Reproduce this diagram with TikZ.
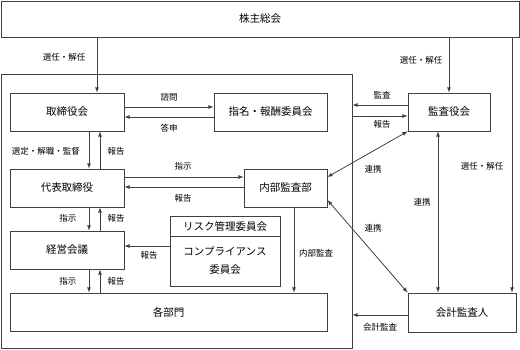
\documentclass[tikz,border=0pt]{standalone}
\usepackage{fontspec}
\newfontfamily\jpfont{Noto Sans CJK JP}
\usetikzlibrary{arrows, positioning, calc}
\definecolor{linegray}{HTML}{404040}
\tikzstyle{block} = [rectangle, draw=linegray, line width=0.8pt, text centered, inner sep=0pt, minimum height=38pt, font=\jpfont\fontsize{10.5}{18}\selectfont]
\tikzstyle{lbl} = [inner sep=0pt, font=\jpfont\fontsize{8.5}{10}\selectfont]
\tikzstyle{arrow} = [draw=linegray, line width=0.8pt, ->, >=latex]
\tikzstyle{twoway} = [draw=linegray, line width=0.8pt, <->, >=latex]

\begin{document}
\begin{tikzpicture}[x=1pt, y=-1pt]
    \useasboundingbox (0,0) rectangle (520,349);

    % boxes
    \node (soukai) [block, minimum width=518pt, minimum height=36pt] at (260,19) {株主総会};
    \node (frame) [draw=linegray, line width=0.8pt, minimum width=351pt, minimum height=274pt] at (176.5,211) {};
    \node (tori) [block, minimum width=114pt] at (67,112) {取締役会};
    \node (shimei) [block, minimum width=113pt] at (270.5,112) {指名・報酬委員会};
    \node (kansa) [block, minimum width=82pt] at (449,112) {監査役会};
    \node (daihyo) [block, minimum width=114pt] at (67,188) {代表取締役};
    \node (naibu) [block, minimum width=83pt] at (285.5,188) {内部監査部};
    \node (keiei) [block, minimum width=114pt] at (67,250) {経営会議};
    \node (risk) [block, minimum width=110pt, minimum height=20pt] at (225,226) {リスク管理委員会};
    \node (comp) [block, minimum width=110pt, minimum height=50pt, align=center] at (225,261) {コンプライアンス\\委員会};
    \node (kakubu) [block, minimum width=317pt] at (168.5,312) {各部門};
    \node (kaikei) [block, minimum width=108pt, minimum height=39pt] at (462,312.5) {会計監査人};

    % from the shareholders
    \coordinate (c1) at ($(tori.north)+(30,0)$);
    \coordinate (c2) at ($(kaikei.north)+(50,0)$);
    \draw [arrow] (c1 |- soukai.south) -- (c1);
    \draw [arrow] (kansa.north |- soukai.south) -- (kansa.north);
    \draw [arrow] (c2 |- soukai.south) -- (c2);

    % board and committees
    \draw [arrow] ([yshift=5pt]tori.east) -- ([yshift=5pt]shimei.west);
    \draw [arrow] ([yshift=-5pt]shimei.west) -- ([yshift=-5pt]tori.east);
    \coordinate (k1) at ([yshift=7pt]kansa.west);
    \coordinate (k2) at ([yshift=-4pt]kansa.west);
    \draw [arrow] (k1) -- (k1 -| frame.east);
    \draw [arrow] (k2 -| frame.east) -- (k2);

    % chain of command
    \draw [arrow] ([xshift=22pt]tori.south) -- ([xshift=22pt]daihyo.north);
    \draw [arrow] ([xshift=33pt]daihyo.north) -- ([xshift=33pt]tori.south);
    \draw [arrow] ([yshift=11pt]daihyo.east) -- ([yshift=11pt]naibu.west);
    \draw [arrow] ([yshift=1pt]naibu.west) -- ([yshift=1pt]daihyo.east);
    \draw [arrow] ([xshift=22pt]daihyo.south) -- ([xshift=22pt]keiei.north);
    \draw [arrow] ([xshift=33pt]keiei.north) -- ([xshift=33pt]daihyo.south);
    \coordinate (k3) at ([yshift=15pt]comp.west);
    \draw [arrow] (k3) -- (k3 -| keiei.east);
    \coordinate (c3) at ([xshift=22pt]keiei.south);
    \coordinate (c4) at ([xshift=33pt]keiei.south);
    \draw [arrow] (c3) -- (c3 |- kakubu.north);
    \draw [arrow] (c4 |- kakubu.north) -- (c4);
    \coordinate (c5) at ([xshift=8.5pt]naibu.south);
    \draw [arrow] (c5) -- (c5 |- kakubu.north);

    % auditors
    \draw [twoway] ([yshift=11pt]naibu.east) -- (kansa.south west);
    \draw [twoway] ([yshift=-12pt]naibu.east) -- (kaikei.north west);
    \draw [twoway] ([xshift=-11pt]kansa.south) -- ([xshift=-24pt]kaikei.north);
    \coordinate (k4) at ([yshift=-2.5pt]kaikei.west);
    \draw [arrow] (k4) -- (k4 -| frame.east);

    % labels
    \node (l1) [lbl] at (64,57) {選任・解任};
    \node (l2) [lbl] at (421,60) {選任・解任};
    \node (l3) [lbl] at (482,166) {選任・解任};
    \node (l4) [lbl] at (169,97) {諮問};
    \node (l5) [lbl] at (169,128) {答申};
    \node (l6) [lbl] at (382,95) {監査};
    \node (l7) [lbl] at (382,124) {報告};
    \node (l8) [lbl] at (46,151) {選定・解職・監督};
    \node (l9) [lbl] at (116,151) {報告};
    \node (l10) [lbl] at (183,166) {指示};
    \node (l11) [lbl] at (183,198) {報告};
    \node (l12) [lbl] at (68,218) {指示};
    \node (l13) [lbl] at (116,218) {報告};
    \node (l14) [lbl] at (149,255) {報告};
    \node (l15) [lbl] at (68,281) {指示};
    \node (l16) [lbl] at (116,281) {報告};
    \node (l17) [lbl] at (316,253) {内部監査};
    \node (l18) [lbl] at (373,169) {連携};
    \node (l19) [lbl] at (373,228) {連携};
    \node (l20) [lbl] at (422,202) {連携};
    \node (l21) [lbl] at (380,327) {会計監査};
\end{tikzpicture}
\end{document}
